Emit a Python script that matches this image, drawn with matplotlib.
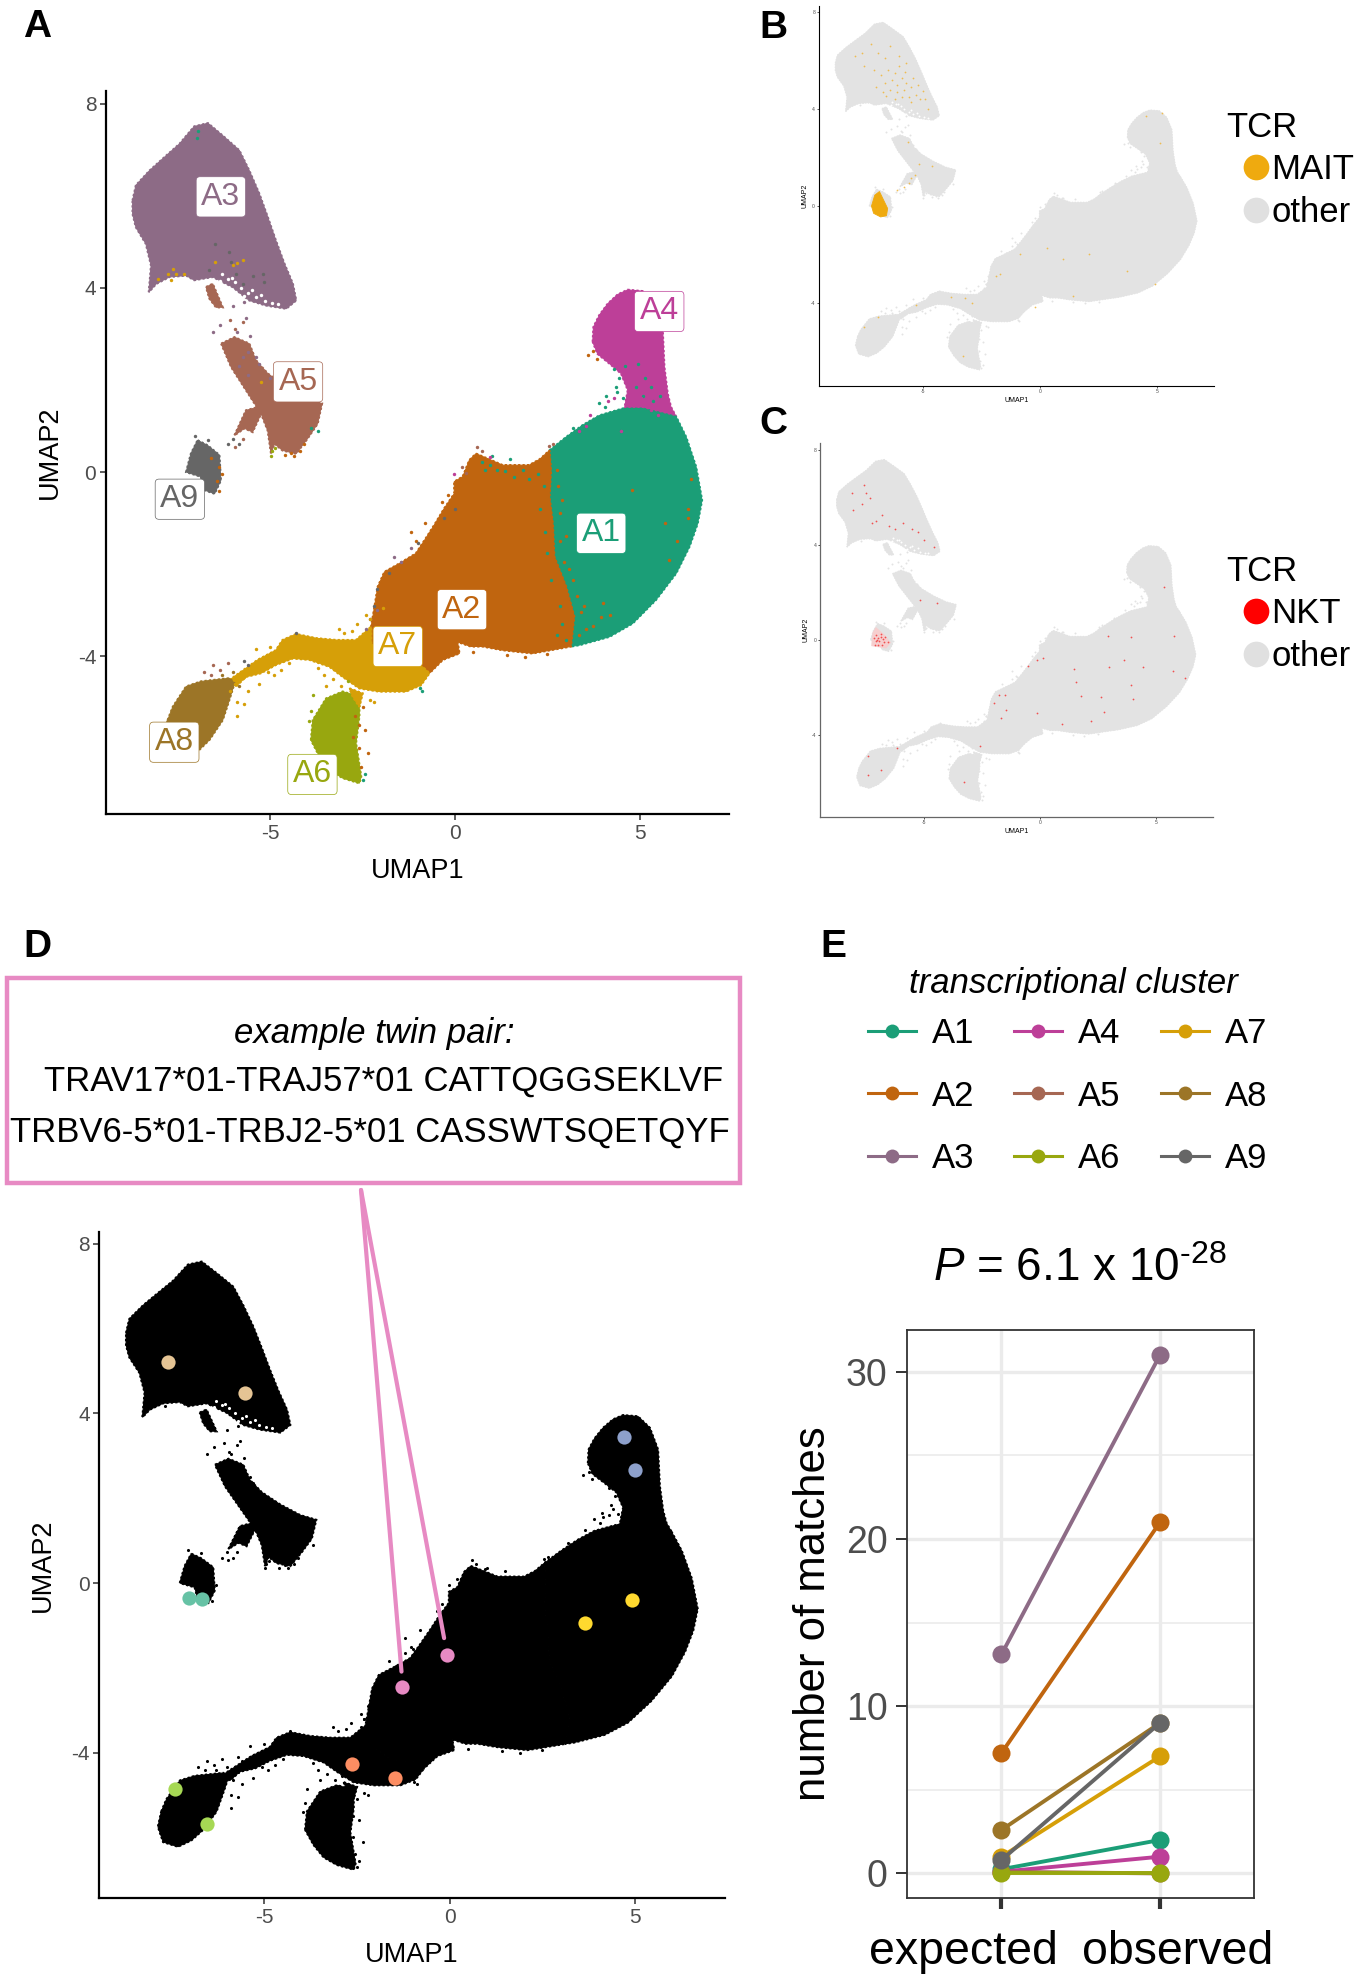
import matplotlib
matplotlib.use("Agg")
import matplotlib.pyplot as plt
from matplotlib.patches import Polygon, Rectangle, ConnectionPatch
from matplotlib.lines import Line2D
from matplotlib.transforms import ScaledTranslation

plt.rcParams['font.family'] = ['Liberation Sans', 'DejaVu Sans']
plt.rcParams['mathtext.fontset'] = 'custom'
plt.rcParams['mathtext.rm'] = 'Liberation Sans'
plt.rcParams['mathtext.it'] = 'Liberation Sans:italic'

W, H = 1360, 1978
DPI = 100

# ---- cluster colours
cluster_names = ['A1', 'A2', 'A3', 'A4', 'A5', 'A6', 'A7', 'A8', 'A9']
cluster_colors = ['#1B9E77', '#C0650F', '#8D6B86', '#BD3F98', '#A66753', '#98A70F', '#D69F08', '#9C7527', '#666666']

# ---- UMAP outlines
A1_shape = [(2.56, 0.47), (3.01, 0.76), (3.46, 1.02), (3.91, 1.23), (4.54, 1.38), (5.08, 1.38), (5.99, 1.20), (6.26, 0.76),
            (6.53, 0.11), (6.69, -0.61), (6.57, -1.12), (6.35, -1.62), (5.99, -2.20), (5.44, -2.78), (4.81, -3.29),
            (4.18, -3.58), (3.37, -3.76), (3.14, -3.79), (3.23, -3.14), (3.01, -2.49), (2.69, -1.84), (2.65, -1.12),
            (2.56, -0.54), (2.60, 0.04)]
A2_shape = [(0.57, 0.40), (0.89, 0.29), (1.29, 0.15), (2.01, 0.15), (2.30, 0.28), (2.56, 0.47), (2.60, 0.04), (2.56, -0.54),
            (2.65, -1.12), (2.69, -1.84), (3.01, -2.49), (3.23, -3.14), (3.14, -3.79), (2.10, -3.94), (1.29, -3.87),
            (0.75, -3.79), (0.43, -3.79), (0.07, -3.69), (0.12, -3.94), (-0.33, -4.08), (-0.69, -4.37), (-0.88, -4.23),
            (-1.60, -4.16), (-2.27, -3.72), (-2.27, -3.36), (-2.18, -2.93), (-2.09, -2.49), (-1.91, -2.17), (-1.51, -1.99),
            (-1.06, -1.77), (-0.79, -1.44), (-0.56, -1.15), (-0.29, -0.79), (-0.02, -0.47), (-0.02, -0.21), (0.21, -0.10),
            (0.39, 0.26)]
A3_shape = [(-8.73, 5.90), (-8.64, 6.23), (-8.27, 6.55), (-7.91, 6.81), (-7.46, 7.13), (-7.06, 7.51), (-6.69, 7.58),
            (-6.29, 7.31), (-5.84, 6.99), (-5.57, 6.55), (-5.30, 6.05), (-5.07, 5.54), (-4.85, 5.03), (-4.62, 4.53),
            (-4.39, 4.09), (-4.30, 3.73), (-4.57, 3.55), (-5.12, 3.62), (-5.57, 3.73), (-6.02, 4.02), (-6.56, 4.24),
            (-7.06, 4.17), (-7.28, 4.27), (-7.73, 4.24), (-8.09, 4.09), (-8.29, 3.91), (-8.23, 4.49), (-8.37, 4.96),
            (-8.64, 5.32), (-8.73, 5.61)]
A4_shape = [(3.73, 2.83), (3.75, 3.15), (3.91, 3.41), (4.14, 3.66), (4.41, 3.86), (4.68, 3.96), (5.08, 3.93), (5.40, 3.66),
            (5.62, 3.15), (5.67, 2.28), (5.76, 1.70), (5.85, 1.41), (5.99, 1.20), (5.44, 1.27), (4.99, 1.38), (4.59, 1.38),
            (4.68, 1.78), (4.50, 2.14), (4.18, 2.36), (3.86, 2.57)]
A5_shape = [(-6.33, 2.79), (-5.97, 2.93), (-5.57, 2.79), (-5.39, 2.43), (-5.07, 2.14), (-4.57, 1.85), (-4.03, 1.60),
            (-3.60, 1.49), (-3.72, 1.05), (-3.99, 0.73), (-4.30, 0.40), (-4.67, 0.47), (-4.89, 0.62), (-4.98, 0.40),
            (-5.07, 0.90), (-5.25, 1.27), (-5.66, 1.78), (-6.06, 2.28)]
A5_branch = [(-5.97, 0.80), (-5.66, 1.34), (-5.34, 1.41), (-5.25, 1.27), (-5.48, 0.87), (-5.70, 0.95)]
A5_under_A3 = [(-6.74, 4.02), (-6.56, 4.09), (-6.29, 3.58), (-6.47, 3.58), (-6.65, 3.77)]
A6_shape = [(-3.90, -5.82), (-3.85, -5.39), (-3.49, -4.92), (-3.04, -4.77), (-2.59, -4.88), (-2.59, -5.31), (-2.68, -5.89),
            (-2.54, -6.62), (-2.59, -6.76), (-3.04, -6.65), (-3.40, -6.47), (-3.67, -6.18)]
A7_shape = [(-6.11, -4.52), (-5.34, -4.08), (-4.85, -3.87), (-4.67, -3.65), (-4.30, -3.52), (-3.76, -3.61), (-3.22, -3.65),
            (-2.68, -3.65), (-2.27, -3.36), (-2.27, -3.72), (-1.60, -4.16), (-0.88, -4.23), (-0.69, -4.37), (-0.92, -4.63),
            (-1.33, -4.77), (-2.05, -4.77), (-2.59, -4.70), (-3.04, -4.45), (-3.40, -4.23), (-3.94, -4.08), (-4.39, -4.05),
            (-4.85, -4.19), (-5.25, -4.37), (-5.66, -4.45), (-5.93, -4.66)]
A7_stem = [(-2.86, -4.70), (-2.50, -4.81), (-2.59, -5.10), (-2.77, -4.88)]
A8_shape = [(-7.78, -5.39), (-7.64, -5.10), (-7.28, -4.66), (-6.88, -4.55), (-6.11, -4.48), (-5.97, -4.59), (-6.11, -4.95),
            (-6.29, -5.39), (-6.65, -5.82), (-6.97, -6.07), (-7.33, -6.22), (-7.73, -6.11), (-7.87, -5.75)]
A9_shape = [(-6.97, 0.69), (-6.70, 0.58), (-6.38, 0.37), (-6.34, -0.18), (-6.51, -0.47), (-6.79, -0.39), (-6.88, -0.10),
            (-7.28, 0.00), (-7.15, 0.40)]

cluster_shapes = [('A3', A3_shape), ('A5', A5_shape), ('A5', A5_branch), ('A5', A5_under_A3), ('A9', A9_shape),
                  ('A4', A4_shape), ('A1', A1_shape), ('A2', A2_shape), ('A6', A6_shape), ('A7', A7_shape),
                  ('A7', A7_stem), ('A8', A8_shape)]

# stray cells around the outlines
strays = {
    'A1': [(4.3, 2.25), (4.45, 2.05), (4.35, 1.85), (4.1, 1.65), (3.9, 1.5), (4.05, 1.42), (4.55, 1.62), (4.4, 1.75), (4.6, 2.3),
           (4.95, 2.35), (5.15, 2.05), (4.9, 1.85), (5.3, 1.85), (5.55, 1.65), (5.1, 1.65), (5.35, 1.55), (1.0, 0.35), (1.5, 0.28),
           (0.95, 0.15), (1.15, 0.05), (1.35, 0.02), (1.6, -0.1), (1.85, 0.05), (2.0, -0.15), (2.25, -0.05), (2.4, -0.3), (2.3, -0.8),
           (2.45, -1.3), (2.5, -1.75), (2.6, -2.35), (2.85, -2.9), (2.9, -3.3), (3.0, -3.65), (2.75, -3.55), (0.72, 0.22), (0.8, 0.05),
           (-0.88, -4.75), (-2.5, -6.7), (-2.45, -6.55), (3.2, 0.95), (-6.95, 7.4), (-6.98, 7.25), (-3.9, 0.95), (-3.7, 0.9), (-0.95, -4.7)],
    'A2': [(2.8, -0.3), (2.85, -0.9), (2.85, -1.5), (2.95, -1.95), (3.2, -2.35), (3.3, -2.7), (3.4, -3.05), (3.55, -3.4), (3.75, -3.35),
           (3.35, -3.55), (3.5, -2.9), (3.1, -2.1), (3.0, -1.4), (2.9, -0.6), (2.75, 0.05), (4.0, -2.85), (4.2, -3.1), (3.95, -3.15),
           (5.8, -1.9), (6.0, -1.5), (6.3, -0.8), (6.4, -0.15), (6.3, -1.0), (5.7, -1.1), (4.8, -0.4), (1.4, -3.97), (0.5, -3.92), (1.9, -4.02),
           (2.5, -3.95), (-2.5, -5.1), (-2.45, -5.6), (-2.35, -6.1), (-2.6, -5.5), (-2.55, -6.4), (-2.72, -5.3), (-2.75, -5.75), (-2.6, -6.0),
           (3.6, 2.55), (3.75, 2.62), (3.85, 2.45), (-4.6, 0.36), (-4.35, 0.35), (-4.2, 0.45), (-4.1, 0.6), (-4.45, 0.42), (-6.4, -0.42), (-6.45, -0.2),
           (-6.3, -0.05), (-6.4, 0.1), (-6.6, 0.3), (-0.8, -1.1), (-1.2, -1.3), (-1.05, -1.5), (-0.35, -0.65), (-0.2, -0.5), (-0.3, -3.95)],
    'A3': [(-6.0, 3.6), (-5.7, 3.7), (-5.9, 4.3), (-5.65, 3.35), (-5.6, 2.6), (-5.4, 2.5), (-5.3, 2.35), (-5.75, 2.5), (-5.85, 2.3),
           (-5.6, 2.1), (-5.55, 2.95), (-5.9, 3.05), (-6.35, 3.2), (-6.55, 3.05), (-2.3, -3.2), (-2.1, -3.0), (-1.65, -1.85), (-1.45, -1.95),
           (-1.2, -1.65), (-5.0, 2.05), (-2.4, -3.4)],
    'A4': [(5.3, 1.35), (5.5, 1.25), (4.9, 1.45), (4.65, 1.55), (4.75, 1.72), (5.05, 1.62), (5.7, 1.35), (4.3, 1.6), (4.15, 1.55),
           (3.55, 1.0), (3.35, 0.9), (0.95, 0.32), (-0.02, -0.05), (4.5, 0.9), (3.65, 1.25)],
    'A5': [(-6.1, 3.3), (-5.75, 3.25), (-5.95, 3.1), (-5.97, 0.55), (-5.75, 0.72), (0.6, 0.55), (0.72, 0.45), (0.2, 0.1), (0.3, -0.02),
           (-6.15, -4.15), (-6.35, -4.3), (-6.55, -4.2), (-6.6, -4.4), (-6.8, -4.35), (2.65, 0.62), (2.55, 0.56)],
    'A6': [(-4.95, 0.45), (-4.98, 0.35), (-4.88, 0.52), (-3.9, -5.2), (-3.95, -5.4), (-3.85, -4.85), (-2.9, -4.55)],
    'A7': [(-7.78, 4.31), (-7.64, 4.42), (-7.33, 4.31), (-7.55, 4.31), (-7.69, 4.17), (-8.05, 4.2), (-6.5, 4.57), (-6.0, 4.5), (-5.9, 4.55), (-5.75, 4.6),
           (-6.1, -4.75), (-5.7, -4.45), (-5.95, -4.6), (-5.6, -4.75), (-5.7, -5.05), (-5.9, -5.0), (-5.9, -5.3), (-5.3, -4.6), (-5.05, -4.35), (-5.5, -4.28),
           (-2.6, -5.0), (-2.3, -4.95), (-2.2, -5.0), (-3.5, -4.65), (-3.3, -4.5), (-3.55, -4.4), (-3.1, -4.65), (-2.3, -3.2), (-3.0, -3.5), (-2.8, -3.45),
           (-3.15, -3.4), (-2.65, -3.3), (-2.4, -3.1), (-1.95, -2.95), (-5.4, -3.85), (-5.0, -3.8), (-4.9, -4.4), (-4.7, -4.3), (-4.0, -3.85), (-3.7, -4.25),
           (-4.5, -4.15), (-5.25, 1.95)],
    'A8': [(-6.0, -4.35), (-5.85, -4.65), (-6.3, -4.4)],
    'A9': [(-6.15, 0.6), (-6.0, 0.72), (-5.85, 0.6), (-7.05, 0.78), (-6.7, 0.7), (-5.6, -4.2), (-5.7, -4.1), (-4.3, -3.5), (-5.2, 4.3),
           (-6.51, 4.96), (-6.11, 4.78), (-6.06, 4.56), (-6.65, 4.38), (-5.93, 4.31), (-5.48, 4.27), (-5.16, 4.13), (-5.75, 4.09),
           (-2.1, -2.55), (-2.2, -2.9), (-1.8, -2.2), (-1.0, -1.55), (-0.3, -1.0), (0.0, -0.8)],
}
# thin spots inside the sparse lower rim of A3
A3_gaps = [(-6.35, 4.16), (-6.15, 4.2), (-5.95, 4.12), (-5.8, 4.0), (-5.6, 3.9), (-5.4, 3.8), (-5.15, 3.72), (-4.95, 3.68), (-5.7, 3.82),
           (-6.05, 4.22), (-5.5, 3.95), (-5.25, 3.85), (-4.8, 3.65), (-6.3, 4.3)]

# TCR-defined cells (panels B, C)
MAIT_core = [(-7.19, 0.0), (-7.05, 0.45), (-6.85, 0.6), (-6.7, 0.3), (-6.5, -0.1), (-6.55, -0.4), (-6.8, -0.45), (-7.1, -0.3)]
MAIT_cells = [(-7.6, 6.3), (-7.9, 6.2), (-7.5, 5.8), (-7.2, 6.7), (-6.9, 6.3), (-6.6, 6.1), (-7.1, 5.6), (-6.8, 5.4),
              (-6.5, 5.6), (-6.2, 5.5), (-6.6, 5.1), (-6.3, 5.2), (-6.1, 5.0), (-5.9, 5.3), (-5.7, 5.1), (-6.4, 4.8),
              (-6.1, 4.7), (-5.8, 4.8), (-5.5, 4.9), (-5.6, 4.5), (-5.3, 4.6), (-5.1, 4.4), (-5.9, 4.5), (-5.4, 5.3),
              (-5.2, 5.0), (-4.9, 4.4), (-4.8, 4.0), (-5.0, 4.75), (-6.7, 4.7), (-7.0, 4.9), (-6.0, 5.8), (-5.7, 5.9),
              (-6.4, 6.6), (-5.5, 4.3), (-6.2, 4.4), (-5.75, 5.55), (-6.55, 4.55), (-6.0, 6.2),
              (-5.65, 2.65), (-5.6, 0.95), (-5.8, 0.8), (-5.5, 1.15), (-5.35, 1.3), (-5.15, 1.75), (-4.6, 1.65), (-6.1, 0.65),
              (-0.85, -2.0), (-1.7, -2.8), (0.3, -1.75), (1.0, -2.2), (2.1, -2.0), (3.7, -2.7), (4.9, -3.2), (1.4, -3.7),
              (-3.8, -3.75), (-3.2, -3.8), (-2.9, -4.0), (-5.3, -4.1), (-6.9, -4.6), (-7.5, -5.0), (-3.3, -6.2), (4.5, 3.7),
              (5.2, 3.85), (5.1, 2.6), (-1.9, -2.9), (-0.2, -4.15)]
NKT_haze = [(-7.25, -0.25), (-7.2, 0.3), (-7.05, 0.55), (-6.7, 0.25), (-6.4, -0.1), (-6.6, -0.35)]
NKT_cells = [(-8.07, 6.2), (-8.04, 5.47), (-7.54, 6.5), (-7.49, 6.2), (-7.29, 5.98), (-7.66, 5.7), (-7.21, 4.9), (-7.05, 5.0),
             (-6.8, 5.24), (-6.47, 4.78), (-6.22, 4.67), (-5.89, 4.9), (-5.48, 4.67), (-5.23, 4.55), (-4.98, 4.2), (-4.57, 3.9),
             (-5.15, 1.68), (-4.41, 1.56), (0.13, -0.74), (-0.12, -0.85), (-0.53, -1.08), (-1.77, -2.3), (-1.52, -2.3), (-1.98, -2.64),
             (-1.44, -2.92), (-1.68, -3.26), (-0.12, -3.08), (0.96, -3.54), (1.53, -1.77), (1.45, -1.2), (1.75, -2.34), (2.97, -1.15),
             (2.94, 0.18), (3.93, 0.11), (4.42, -1.15), (5.74, 0.18), (5.71, -1.31), (3.93, -1.89), (4.01, -2.46), (2.61, -2.39),
             (2.77, -3.03), (2.19, -3.38), (3.6, -0.85), (6.24, -1.6), (-2.59, -4.46), (-6.14, -4.53), (-7.38, -4.87), (-7.38, -5.68),
             (-6.83, -5.45), (-3.25, -5.98), (5.33, 2.25),
             (-7.05, 0.2), (-6.95, 0.1), (-6.85, 0.25), (-6.75, 0.05), (-6.9, -0.05), (-7.05, -0.05), (-7.1, -0.2), (-6.95, -0.2),
             (-6.7, -0.1), (-6.55, -0.1), (-6.8, -0.2), (-7.0, 0.02), (-6.65, 0.12), (-7.12, 0.08), (-6.85, 0.12)]

# Panel A labels
label_x = [3.96, 0.19, -6.34, 5.53, -4.25, -3.86, -1.55, -7.60, -7.45]
label_y = [-1.33, -2.99, 5.98, 3.49, 1.96, -6.57, -3.79, -5.87, -0.59]

# Panel D twin pairs
pair_colors = ['#E5C494', '#8DA0CB', '#FFD92F', '#E78AC3', '#FC8D62', '#A6D854', '#66C2A5']
pair_x = [(-7.59, -5.52), (4.71, 5.01), (3.66, 4.93), (-1.28, -0.08), (-2.63, -1.47), (-7.41, -6.54), (-7.02, -6.68)]
pair_y = [(5.21, 4.48), (3.45, 2.67), (-0.94, -0.41), (-2.45, -1.70), (-4.28, -4.59), (-4.86, -5.69), (-0.35, -0.38)]

# Panel E
conditions = ['expected', 'observed']
expected = [0.25, 7.2, 13.1, 0.1, 0.1, 0.0, 1.0, 2.6, 0.8]
observed = [2, 21, 31, 1, 0, 0, 7, 9, 9]

XLIM = (-9.45, 7.42)
YLIM = (-7.43, 8.28)
umap_xticks = [-5, 0, 5]
umap_yticks = [-4, 0, 4, 8]
umap_ytick_labels = ['-4', '0', '4', '8']
umap_xtick_labels = ['-5', '0', '5']

fig = plt.figure(figsize=(W / DPI, H / DPI), dpi=DPI, facecolor='white')


def fx(px):
    return px / W


def fy(py):
    return 1 - py / H


def make_axes(left, top, right, bottom):
    return fig.add_axes([fx(left), fy(bottom), (right - left) / W, (bottom - top) / H])


def umap_axes(ax, tick_fs, label_fs, lw, tick_len, spine_col='black', pad=3):
    ax.set_xlim(*XLIM)
    ax.set_ylim(*YLIM)
    ax.spines[['top', 'right']].set_visible(False)
    ax.spines[['left', 'bottom']].set_linewidth(lw)
    ax.spines[['left', 'bottom']].set_color(spine_col)
    ax.set_xticks(umap_xticks, umap_xtick_labels)
    ax.set_yticks(umap_yticks, umap_ytick_labels)
    ax.tick_params(labelsize=tick_fs, labelcolor='#4d4d4d', width=lw * 0.7, length=tick_len, color='#333333', pad=pad)
    ax.set_xlabel('UMAP1', fontsize=label_fs)
    ax.set_ylabel('UMAP2', fontsize=label_fs)


def draw_cells(ax, color_of, size, edge_lw=1.6):
    for name, shape in cluster_shapes:
        c = color_of(name)
        ax.add_patch(Polygon(shape, closed=True, facecolor=c, edgecolor=c, lw=edge_lw * 0.45, zorder=2))
        ax.add_patch(Polygon(shape, closed=True, facecolor='none', edgecolor=c, lw=edge_lw,
                             ls=(0, (1, 1)), zorder=2))
    ax.scatter([p[0] for p in A3_gaps], [p[1] for p in A3_gaps], s=size, color='white', lw=0, zorder=3)
    for name, pts in strays.items():
        ax.scatter([p[0] for p in pts], [p[1] for p in pts], s=size, color=color_of(name), lw=0, zorder=3)


colour_map = dict(zip(cluster_names, cluster_colors))

# ---------------- Panel A
axA = make_axes(106, 91, 729, 814)
umap_axes(axA, 15, 19.5, 1.6, 4)
draw_cells(axA, lambda n: colour_map[n], 6)
for nm, x, y in zip(cluster_names, label_x, label_y):
    axA.text(x, y, nm, color=colour_map[nm], fontsize=23, ha='center', va='center', zorder=5,
             bbox=dict(boxstyle='round,pad=0.16,rounding_size=0.12', fc='white', ec=colour_map[nm], lw=0.5))
axA.xaxis.labelpad = 11
axA.yaxis.labelpad = 11

# ---------------- Panel B
axB = make_axes(818.5, 5.5, 1214, 386)
umap_axes(axB, 3.6, 5, 0.8, 1.5, pad=1)
axB.xaxis.labelpad = 1.5
axB.yaxis.labelpad = 1.5
draw_cells(axB, lambda n: '#e3e3e3', 2, edge_lw=1.0)
axB.add_patch(Polygon(MAIT_core, closed=True, fc='#EFAA0F', ec='#EFAA0F', lw=0.6, zorder=4))
axB.scatter([p[0] for p in MAIT_cells], [p[1] for p in MAIT_cells], s=1.6, color='#EFB53A', lw=0, alpha=0.85, zorder=4)

# ---------------- Panel C
axC = make_axes(820, 443, 1212.7, 817)
umap_axes(axC, 3.6, 5, 0.9, 1.5, spine_col='#666666', pad=1)
axC.xaxis.labelpad = 1.5
axC.yaxis.labelpad = 1.5
draw_cells(axC, lambda n: '#e3e3e3', 2, edge_lw=1.0)
axC.add_patch(Polygon(NKT_haze, closed=True, fc='#f6cfcf', ec='none', zorder=3))
axC.scatter([p[0] for p in NKT_cells], [p[1] for p in NKT_cells], s=1.6, color='#F05050', lw=0, zorder=4)

# TCR legends
tcr_kw = dict(markersize=18.5, linestyle='none', marker='o', markeredgewidth=0)
for ax_, first_label, first_colour, top in [(axB, 'MAIT', '#EFAA0F', 111), (axC, 'NKT', '#FF0000', 555)]:
    ax_.legend(handles=[Line2D([], [], color=first_colour, label=first_label, **tcr_kw),
                        Line2D([], [], color='#e0e0e0', label='other', **tcr_kw)],
               title='TCR', title_fontsize=25, fontsize=25, frameon=False, loc='upper left', alignment='left',
               bbox_to_anchor=(fx(1226), fy(top)), bbox_transform=fig.transFigure, borderpad=0, borderaxespad=0,
               handlelength=1.73, handletextpad=-0.43, labelspacing=0.27)

# ---------------- Panel D
axD = make_axes(99.4, 1232, 724.7, 1898)
umap_axes(axD, 15, 19.5, 1.6, 4)
draw_cells(axD, lambda n: 'black', 5, edge_lw=1.6)
for c, xs, ys in zip(pair_colors, pair_x, pair_y):
    axD.scatter(xs, ys, s=105, color=c, lw=0, zorder=6)
axD.xaxis.labelpad = 11
axD.yaxis.labelpad = 11

PINK = '#E78AC3'
fig.add_artist(Rectangle((fx(6.8), fy(1183)), (740 - 6.8) / W, (1183 - 978) / H, transform=fig.transFigure,
                         fc='white', ec=PINK, lw=3.2))
pair_line_ends = [(-1.30, -2.09), (-0.15, -1.30)]
for end in pair_line_ends:
    fig.add_artist(ConnectionPatch(xyA=(fx(361), fy(1190)), coordsA=fig.transFigure, xyB=end, coordsB=axD.transData,
                                   color=PINK, lw=3.0, zorder=7))
fig.text(fx(374), fy(1033), 'example twin pair:', fontsize=25, style='italic', ha='center', va='center')
fig.text(fx(723), fy(1081), 'TRAV17*01-TRAJ57*01 CATTQGGSEKLVF', fontsize=25, ha='right', va='center')
fig.text(fx(730), fy(1132), 'TRBV6-5*01-TRBJ2-5*01 CASSWTSQETQYF', fontsize=25, ha='right', va='center')

# ---------------- Panel E
axE = make_axes(907, 1330, 1254, 1898)
axE.set_xlim(-0.596, 1.593)
axE.set_ylim(-1.47, 32.5)
axE.set_axisbelow(True)
axE.set_yticks([0, 10, 20, 30], ['0', '10', '20', '30'])
axE.set_yticks([5, 15, 25], minor=True)
axE.set_xticks([0, 1], conditions)
axE.grid(True, which='major', color='#ebebeb', lw=2.4)
axE.grid(True, which='minor', axis='y', color='#ebebeb', lw=1.2)
axE.tick_params(axis='y', which='minor', length=0)
axE.tick_params(axis='y', which='major', labelsize=27, labelcolor='#4d4d4d', length=8, width=1.4, color='#333333', pad=6)
axE.tick_params(axis='x', which='major', labelsize=33.5, labelcolor='black', length=8, width=3, color='#333333', pad=15)
for s in axE.spines.values():
    s.set_color('#333333')
    s.set_linewidth(1.3)
for name, c, e, o in zip(cluster_names, cluster_colors, expected, observed):
    axE.plot([0, 1], [e, o], '-o', color=c, lw=2.8, ms=13, mew=0, clip_on=False, zorder=4, label=name)
for lab, dx in zip(axE.get_xticklabels(), [-38, 18]):
    lab.set_transform(lab.get_transform() + ScaledTranslation(dx / DPI, 0, fig.dpi_scale_trans))
axE.set_ylabel('number of matches', fontsize=31.5, labelpad=8.5)

handles = [Line2D([], [], color=c, lw=2.2, marker='o', ms=10, mew=0, label=n)
           for n, c in zip(cluster_names, cluster_colors)]
axE.legend(handles=handles, ncols=3, frameon=False, fontsize=25, loc='upper left',
           bbox_to_anchor=(fx(868), fy(1017)), bbox_transform=fig.transFigure, borderpad=0, borderaxespad=0,
           handlelength=1.38, handletextpad=0.46, labelspacing=0.85, columnspacing=1.15)
fig.text(fx(1073), fy(984), 'transcriptional cluster', fontsize=25, style='italic', ha='center', va='center')
fig.text(fx(1080), fy(1269), r'$\mathit{P}$ = 6.1 x 10$^{\mathrm{\text{-}28}}$', fontsize=33, ha='center', va='center')

# ---------------- panel letters
for letter, x, y in [('A', 37, 27), ('B', 773, 28), ('C', 773, 424), ('D', 37, 947), ('E', 833, 947)]:
    fig.text(fx(x), fy(y), letter, fontsize=28, fontweight='bold', ha='center', va='center')

fig.savefig('out.png', dpi=DPI)
